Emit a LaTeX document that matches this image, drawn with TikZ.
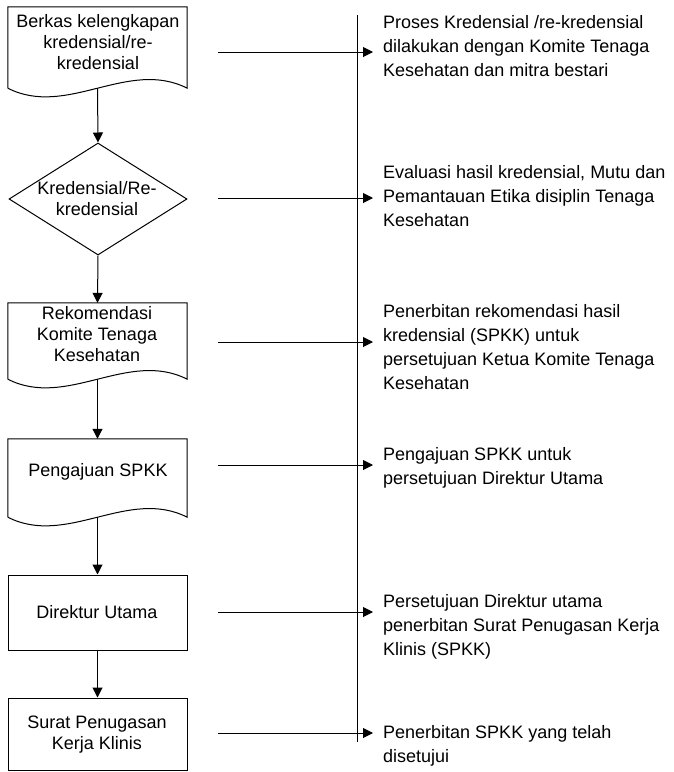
\documentclass[tikz,border=0pt]{standalone}
\usepackage{fontspec}
\setmainfont{Liberation Sans}
\usetikzlibrary{arrows.meta,shapes.geometric}
\tikzset{
  flow/.style={line width=1pt, draw=black},
  arr/.style={flow, -{Triangle[length=10pt,width=10pt]}},
  ltext/.style={align=center, inner sep=0pt, font=\fontsize{18}{21}\selectfont},
  rtext/.style={align=left, inner sep=0pt, font=\fontsize{18}{24}\selectfont, anchor=base west},
  docn/.style={minimum width=179pt, inner sep=0pt},
  boxn/.style={draw, line width=1pt, minimum width=179pt, inner sep=0pt},
  dia/.style={diamond, draw, line width=1pt, minimum width=178pt, minimum height=112pt, inner sep=0pt},
}
\newcommand{\docpath}[1]{\draw[flow] (#1.south west) -- (#1.north west) -- (#1.north east) -- (#1.south east) .. controls ([xshift=30.5pt,yshift=30pt]#1.south) and ([xshift=-30.5pt,yshift=-30pt]#1.south) .. (#1.south west);}
\begin{document}
\begin{tikzpicture}[x=1pt,y=1pt]
\path[use as bounding box] (0,0) rectangle (674,-772);

% left column shapes
\node[docn, minimum height=81pt] (d1) at (97.5,-47.5) {};
\docpath{d1}
\node[dia] (k) at (98,-199) {};
\node[docn, minimum height=76pt] (d3) at (97.5,-341) {};
\docpath{d3}
\node[docn, minimum height=78pt] (d4) at (97.5,-478) {};
\docpath{d4}
\node[boxn, minimum height=75pt] (b5) at (97.5,-612.5) {};
\node[boxn, minimum height=72pt] (b6) at (97.5,-734) {};

% left texts
\node[ltext] (t1) at (98,-42.5) {Berkas kelengkapan\\kredensial/re-\\kredensial};
\node[ltext] (t2) at (97,-198.5) {Kredensial/Re-\\kredensial};
\node[ltext] (t3) at (97,-334.5) {Rekomendasi\\Komite Tenaga\\Kesehatan};
\node[ltext] (t4) at (98,-472) {Pengajuan SPKK};
\node[ltext] (t5) at (97,-612) {Direktur Utama};
\node[ltext] (t6) at (97,-735) {Surat Penugasan\\Kerja Klinis};

% vertical flow arrows
\draw[arr] (d1.south) -- (k.north);
\draw[arr] (k.south) -- (d3.north);
\draw[arr] (d3.south) -- (d4.north);
\draw[arr] (d4.south) -- (b5.north);
\draw[arr] (b5.south) -- (b6.north);

% vertical line
\coordinate (vt) at (357,-15);
\coordinate (vb) at (357,-742);
\draw[flow] (vt) -- (vb);

% horizontal arrows
\foreach \i/\y in {1/52,2/198,3/342,4/465,5/612,6/733}{
  \coordinate (s\i) at (218,-\y);
  \coordinate (e\i) at (373,-\y);
  \draw[arr] (s\i) -- (e\i);
}

% right texts (anchored at the baseline of the last line)
\node[rtext] (r1) at (383,-76) {Proses Kredensial /re-kredensial\\dilakukan dengan Komite Tenaga\\Kesehatan dan mitra bestari};
\node[rtext] (r2) at (383,-226) {Evaluasi hasil kredensial, Mutu dan\\Pemantauan Etika disiplin Tenaga\\Kesehatan};
\node[rtext] (r3) at (383,-389) {Penerbitan rekomendasi hasil\\kredensial (SPKK) untuk\\persetujuan Ketua Komite Tenaga\\Kesehatan};
\node[rtext] (r4) at (383,-484) {Pengajuan SPKK untuk\\persetujuan Direktur Utama};
\node[rtext] (r5) at (383,-655) {Persetujuan Direktur utama\\penerbitan Surat Penugasan Kerja\\Klinis (SPKK)};
\node[rtext] (r6) at (383,-762) {Penerbitan SPKK yang telah\\disetujui};
\end{tikzpicture}
\end{document}
